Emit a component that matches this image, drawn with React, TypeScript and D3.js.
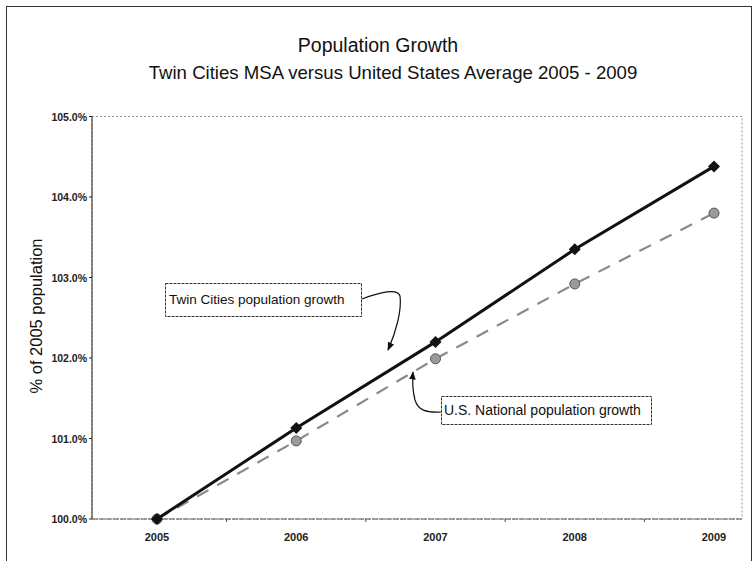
import React from 'react';
import * as d3 from 'd3';

const years = ['2005', '2006', '2007', '2008', '2009'];
const twinCities = [100.0, 101.13, 102.2, 103.35, 104.38];
const usNational = [100.0, 100.97, 101.99, 102.92, 103.8];
const yTicks = [100, 101, 102, 103, 104, 105];

const W = 756;
const H = 561;
const plot = { left: 92, right: 742, top: 116.5, bottom: 519 };
const font = 'Arial, "Liberation Sans", sans-serif';

const App = () => {
  const x = d3.scalePoint().domain(years).range([157, 714]);
  const step = x.step();
  const y = d3.scaleLinear().domain([100, 105]).range([plot.bottom, plot.top]);

  const line = d3
    .line<number>()
    .x((d, i) => x(years[i]) as number)
    .y(d => y(d));

  const square = d3.symbol().type(d3.symbolSquare).size(72)() as string;

  return (
    <svg width={W} height={H} style={{ position: 'absolute', left: 0, top: 0, background: '#fff' }}>
      {/* outer chart frame */}
      <rect x={6.5} y={6.5} width={745} height={H + 10} fill="none" stroke="#333" strokeWidth={1} />

      <text x={378} y={52} textAnchor="middle" fontFamily={font} fontSize={19.5} fill="#111">
        Population Growth
      </text>
      <text x={393} y={79} textAnchor="middle" fontFamily={font} fontSize={18.6} fill="#111">
        Twin Cities MSA versus United States Average 2005 - 2009
      </text>

      {/* plot area border */}
      <rect
        x={plot.left}
        y={plot.top}
        width={plot.right - plot.left}
        height={plot.bottom - plot.top}
        fill="none"
        stroke="#999"
        strokeDasharray="2,2"
      />
      <line x1={plot.left} x2={plot.left} y1={plot.top} y2={plot.bottom} stroke="#222" />
      <line x1={plot.left} x2={plot.right} y1={plot.bottom} y2={plot.bottom} stroke="#555" strokeDasharray="6,1" />

      {yTicks.map(t => (
        <g key={t}>
          <line x1={plot.left - 3} x2={plot.left} y1={y(t)} y2={y(t)} stroke="#222" />
          <text x={87} y={y(t) + 4} textAnchor="end" fontFamily={font} fontSize={10.5} fontWeight="bold" fill="#222">
            {t.toFixed(1)}%
          </text>
        </g>
      ))}
      <text
        transform={`translate(42,316) rotate(-90)`}
        textAnchor="middle"
        fontFamily={font}
        fontSize={16.5}
        fill="#111"
      >
        % of 2005 population
      </text>

      {years.map((yr, i) => (
        <g key={yr}>
          {i > 0 && (
            <line
              x1={(x(yr) as number) - step / 2}
              x2={(x(yr) as number) - step / 2}
              y1={plot.bottom}
              y2={plot.bottom + 3}
              stroke="#444"
            />
          )}
          <text x={x(yr)} y={plot.bottom + 22} textAnchor="middle" fontFamily={font} fontSize={11} fontWeight="bold" fill="#222">
            {yr}
          </text>
        </g>
      ))}

      {/* US national - dashed grey */}
      <path d={line(usNational) as string} fill="none" stroke="#8a8a8a" strokeWidth={2.2} strokeDasharray="13,10" />
      {usNational.map((v, i) => (
        <circle key={i} cx={x(years[i])} cy={y(v)} r={5} fill="#9a9a9a" stroke="#555" strokeWidth={1} />
      ))}

      {/* Twin Cities - solid black */}
      <path d={line(twinCities) as string} fill="none" stroke="#111" strokeWidth={3} />
      {twinCities.map((v, i) => (
        <path key={i} d={square} transform={`translate(${x(years[i])},${y(v)}) rotate(45)`} fill="#111" />
      ))}

      {/* annotations */}
      <defs>
        <marker id="arr" viewBox="0 0 10 10" refX={9} refY={5} markerWidth={7} markerHeight={7} orient="auto">
          <path d="M0,1 L10,5 L0,9 z" fill="#111" />
        </marker>
      </defs>
      <rect x={165.5} y={283.5} width={196} height={33} fill="#fff" stroke="#333" strokeDasharray="3,1" />
      <text x={169} y={304} fontFamily={font} fontSize={13.5} fill="#111">
        Twin Cities population growth
      </text>
      <path d="M362,299 C380,292 398,288 400,296 C402,310 396,332 388,350" fill="none" stroke="#111" strokeWidth={1.2} markerEnd="url(#arr)" />

      <rect x={441.5} y={396.5} width={210} height={28} fill="#fff" stroke="#333" strokeDasharray="3,1" />
      <text x={444} y={415} fontFamily={font} fontSize={14} fill="#111">
        U.S. National population growth
      </text>
      <path d="M441,412 C426,413 418,410 415,400 C413,392 412,384 413,372" fill="none" stroke="#111" strokeWidth={1.2} markerEnd="url(#arr)" />
    </svg>
  );
};

export default App;
